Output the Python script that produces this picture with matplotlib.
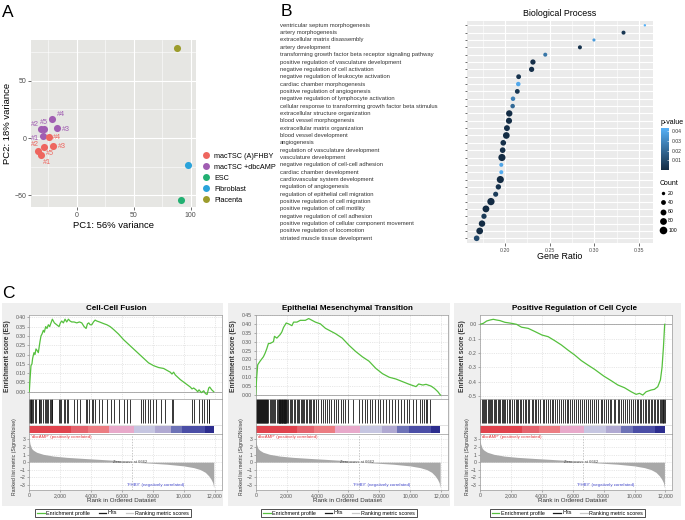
import matplotlib
matplotlib.use("Agg")
import matplotlib.pyplot as plt
import matplotlib.transforms as mtransforms
from matplotlib.colors import LinearSegmentedColormap, Normalize
from matplotlib.cm import ScalarMappable
from matplotlib.lines import Line2D
from matplotlib.patches import Rectangle
from matplotlib.ticker import FuncFormatter
import numpy as np

plt.rcParams["font.family"] = ["Liberation Sans", "DejaVu Sans"]

# ---------------- data: panel A (PCA) ----------------
pca_groups = ["macTSC (A)FHBY", "macTSC +dbcAMP", "ESC", "Fibroblast", "Placenta"]
pca_colors = ["#EE665F", "#A05DB2", "#22B072", "#2AA3DA", "#9C9C2C"]
rep_labels = ["#1", "#2", "#3", "#4", "#5"]
fhby_pc1 = [-31.3, -33.4, -21.0, -24.1, -29.0]
fhby_pc2 = [-14.9, -11.4, -6.8, 1.1, -8.2]
dbc_pc1 = [-29.6, -31.3, -17.5, -21.3, -29.0]
dbc_pc2 = [1.8, 7.6, 8.8, 16.4, 7.6]
other_pc1 = [91.2, 97.9, 88.3]   # ESC, Fibroblast, Placenta
other_pc2 = [-53.8, -23.6, 79.0]

# ---------------- data: panel B (GO dot plot) ----------------
bp_terms = [
    "ventricular septum morphogenesis",
    "artery morphogenesis",
    "extracellular matrix disassembly",
    "artery development",
    "transforming growth factor beta receptor signaling pathway",
    "positive regulation of vasculature development",
    "negative regulation of cell activation",
    "negative regulation of leukocyte activation",
    "cardiac chamber morphogenesis",
    "positive regulation of angiogenesis",
    "negative regulation of lymphocyte activation",
    "cellular response to transforming growth factor beta stimulus",
    "extracellular structure organization",
    "blood vessel morphogenesis",
    "extracellular matrix organization",
    "blood vessel development",
    "angiogenesis",
    "regulation of vasculature development",
    "vasculature development",
    "negative regulation of cell-cell adhesion",
    "cardiac chamber development",
    "cardiovascular system development",
    "regulation of angiogenesis",
    "regulation of epithelial cell migration",
    "positive regulation of cell migration",
    "positive regulation of cell motility",
    "negative regulation of cell adhesion",
    "positive regulation of cellular component movement",
    "positive regulation of locomotion",
    "striated muscle tissue development",
]
bp_ratio = [0.3566, 0.3327, 0.2996, 0.2839, 0.2451, 0.2313, 0.2298, 0.2153,
            0.2149, 0.2138, 0.2090, 0.2086, 0.2048, 0.2045, 0.2022, 0.2015,
            0.1981, 0.1974, 0.1966, 0.1959, 0.1959, 0.1948, 0.1926, 0.1896,
            0.1843, 0.1787, 0.1765, 0.1743, 0.1717, 0.1683]
bp_count = [10, 28, 17, 28, 28, 48, 48, 40, 35, 40, 35, 35, 70, 65, 60, 78,
            55, 55, 88, 28, 28, 88, 50, 45, 92, 80, 48, 72, 78, 55]
bp_pvalue = [0.043, 0.004, 0.036, 0.003, 0.024, 0.002, 0.002, 0.003, 0.040,
             0.004, 0.028, 0.020, 0.001, 0.001, 0.002, 0.0005, 0.002, 0.002,
             0.0003, 0.039, 0.041, 0.0003, 0.003, 0.006, 0.0002, 0.0003,
             0.005, 0.0005, 0.0003, 0.010]
size_legend_counts = [20, 40, 60, 80, 100]

# ---------------- data: panel C (GSEA) ----------------
gsea_titles = ["Cell-Cell Fusion", "Epithelial Mesenchymal Transition",
               "Positive Regulation of Cell Cycle"]

es_rank_1 = [0, 43, 108, 173, 216, 303, 368, 432, 519, 584, 692, 757, 822, 908,
             973, 1059, 1146, 1232, 1319, 1405, 1492, 1622, 1773, 1924, 2011,
             2097, 2205, 2313, 2421, 2530, 2638, 2746, 2897, 3070, 3243, 3394,
             3546, 3675, 3762, 3848, 3935, 4043, 4151, 4259, 4367, 4540, 4692,
             4843, 5016, 5232, 5448, 5773, 6097, 6421, 6745, 7070, 7394, 7718,
             8043, 8367, 8691, 8907, 9124, 9232, 9340, 9448, 9772, 10097,
             10421, 10529, 10637, 10788, 10897, 10983, 11135, 11286, 11394,
             11502, 11610, 11675, 11805, 11935]
es_score_1 = [0.0, 0.06, 0.14, 0.15, 0.18, 0.21, 0.20, 0.23, 0.22, 0.21, 0.27,
              0.30, 0.31, 0.33, 0.32, 0.35, 0.34, 0.36, 0.35, 0.37, 0.39, 0.37,
              0.36, 0.35, 0.37, 0.38, 0.37, 0.39, 0.375, 0.39, 0.38, 0.375,
              0.375, 0.37, 0.375, 0.37, 0.35, 0.34, 0.365, 0.37, 0.36, 0.36,
              0.375, 0.385, 0.38, 0.375, 0.37, 0.365, 0.36, 0.35, 0.335, 0.31,
              0.28, 0.255, 0.23, 0.205, 0.18, 0.155, 0.14, 0.13, 0.125, 0.115,
              0.105, 0.095, 0.105, 0.09, 0.065, 0.045, 0.025, 0.015, 0.02,
              0.01, 0.0, 0.01, -0.005, 0.005, -0.01, -0.015, 0.02, 0.025, 0.01,
              0.0]
hits_1 = [10, 40, 80, 120, 170, 210, 380, 420, 600, 650, 700, 750, 900, 1000,
          1050, 1150, 1220, 1330, 1400, 1450, 1490, 1950, 2000, 2080, 2220,
          2300, 2440, 2520, 2900, 3100, 3250, 3690, 3760, 3840, 4060, 4150,
          4250, 4500, 4700, 5000, 5300, 5500, 5800, 6100, 6300, 6500, 7200,
          7350, 7500, 7650, 7800, 8000, 8200, 8500, 8750, 9250, 9330, 10550,
          10630, 10950, 11200, 11280, 11520, 11600, 11660]

es_rank_2 = [0, 65, 130, 282, 499, 608, 716, 825, 933, 1042, 1150, 1215, 1367,
             1476, 1584, 1693, 1801, 1975, 2127, 2344, 2452, 2669, 2886, 3212,
             3429, 3646, 3863, 4188, 4514, 4839, 5165, 5599, 6033, 6467, 6901,
             7335, 7769, 8203, 8637, 9071, 9505, 9939, 10373, 10546, 10807,
             11024, 11349, 11566, 11783, 11950]
es_score_2 = [0.0, 0.10, 0.17, 0.19, 0.215, 0.235, 0.26, 0.29, 0.29, 0.295,
              0.30, 0.33, 0.32, 0.33, 0.34, 0.355, 0.38, 0.405, 0.40, 0.39,
              0.41, 0.41, 0.42, 0.42, 0.43, 0.42, 0.41, 0.40, 0.375, 0.36,
              0.345, 0.32, 0.28, 0.245, 0.215, 0.19, 0.15, 0.12, 0.10, 0.09,
              0.075, 0.06, 0.047, 0.062, 0.056, 0.06, 0.05, 0.037, 0.019, 0.0]
hits_2 = [20, 60, 110, 150, 170, 200, 240, 270, 300, 340, 370, 390, 430, 450,
          480, 520, 550, 580, 610, 640, 670, 700, 760, 820, 900, 960, 1050,
          1120, 1200, 1280, 1350, 1420, 1480, 1500, 1530, 1550, 1580, 1600,
          1630, 1650, 1680, 1700, 1720, 1750, 1770, 1800, 1820, 1850, 1870,
          1900, 1920, 1950, 1980, 2000, 2080, 2200, 2300, 2380, 2480, 2560,
          2650, 2730, 2820, 2900, 2980, 3060, 3150, 3250, 3330, 3420, 3520,
          3600, 3700, 3800, 3900, 4050, 4200, 4350, 4480, 4600, 4750, 4900,
          5050, 5200, 5350, 5500, 5650, 5800, 5950, 6300, 6700, 6900, 7050,
          7200, 7400, 7550, 7700, 7900, 8050, 8250, 8450, 8600, 8800, 9000,
          9200, 9400, 9600, 9800, 9950, 10150, 10400, 10600, 10750, 10900,
          11000, 11100, 11300]

es_rank_3 = [0, 215, 430, 645, 860, 1075, 1290, 1612, 2042, 2365, 2687, 3117,
             3547, 4020, 4407, 4837, 5267, 5697, 6127, 6557, 6987, 7417, 7998,
             8492, 8922, 9352, 9782, 10105, 10320, 10535, 10750, 11072, 11287,
             11502, 11674, 11780, 11870, 11950]
es_score_3 = [0.0, 0.007, 0.023, 0.03, 0.035, 0.03, 0.026, 0.014, 0.007, 0.0,
              -0.02, -0.028, -0.05, -0.075, -0.086, -0.114, -0.144, -0.18,
              -0.214, -0.253, -0.284, -0.314, -0.36, -0.393, -0.423, -0.442,
              -0.47, -0.488, -0.481, -0.493, -0.47, -0.458, -0.453, -0.435,
              -0.388, -0.30, -0.16, 0.0]
hits_3 = [30, 100, 180, 260, 330, 420, 500, 560, 640, 720, 800, 880, 950, 1050,
          1150, 1230, 1320, 1400, 1480, 1560, 1650, 1750, 1850, 1950, 2100,
          2200, 2300, 2400, 2480, 2560, 2650, 2800, 2900, 3000, 3100, 3200,
          3350, 3450, 3550, 3650, 3750, 3900, 4050, 4150, 4300, 4400, 4500,
          4650, 4750, 4850, 5000, 5100, 5250, 5350, 5500, 5600, 5700, 5850,
          5950, 6100, 6200, 6350, 6450, 6600, 6700, 6850, 7000, 7100, 7250,
          7400, 7500, 7650, 7800, 7900, 8050, 8150, 8300, 8400, 8500, 8650,
          8750, 8900, 9000, 9150, 9250, 9400, 9500, 9650, 9750, 9900, 10050,
          10150, 10250, 10350, 10450, 10550, 10650, 10750, 10850, 10950,
          11050, 11150, 11250, 11350, 11450, 11550, 11620, 11700, 11760,
          11820, 11870, 11910, 11940]

metric_rank = [0, 43, 150, 260, 475, 900, 1560, 2420, 3500, 4580, 5660, 6662,
               7830, 8900, 9990, 10640, 11070, 11390, 11610, 11760, 11870, 11935]
metric_value = [3.0, 2.4, 1.8, 1.57, 1.3, 1.03, 0.8, 0.63, 0.49, 0.36, 0.22,
                0.0, -0.13, -0.27, -0.49, -0.72, -0.98, -1.34, -1.8, -2.24,
                -2.7, -3.36]
zero_cross = 6662
heat_edges = [0, 2700, 3800, 5150, 6750, 8150, 9150, 9900, 11350, 11950]
heat_colors = ["#E0434D", "#E4636D", "#EC7D82", "#E8A9CA", "#C6C6E1",
               "#B0A9D2", "#6E73B7", "#4B4EA6", "#2C2D8E"]

es_series = [(es_rank_1, es_score_1), (es_rank_2, es_score_2), (es_rank_3, es_score_3)]
hits_all = [hits_1, hits_2, hits_3]

# ---------------- layout helpers (pixel coords) ----------------
W, H = 685, 520


def box(l, t, r, b):
    return [l / W, 1 - b / H, (r - l) / W, (b - t) / H]


def ftext(x, y, s, **kw):
    fig.text(x / W, 1 - y / H, s, **kw)


fig = plt.figure(figsize=(W / 100, H / 100), dpi=100)

ftext(2, 17, "A", fontsize=12.5, va="baseline")
ftext(281, 15.5, "B", fontsize=12.5, va="baseline")
ftext(2, 298, "C", fontsize=12.5, va="baseline")

# ================= Panel A =================
axA = fig.add_axes(box(31, 40, 195.7, 207.3))
axA.set_facecolor("#E6E6E3")
xs = fhby_pc1 + dbc_pc1 + other_pc1
ys = fhby_pc2 + dbc_pc2 + other_pc2
dx = 0.05 * (max(xs) - min(xs))
dy = 0.05 * (max(ys) - min(ys))
axA.set_xlim(min(xs) - dx, max(xs) + dx)
axA.set_ylim(min(ys) - dy, max(ys) + dy)

axA.scatter(dbc_pc1, dbc_pc2, s=26, color=pca_colors[1], linewidths=0, zorder=3)
axA.scatter(fhby_pc1, fhby_pc2, s=26, color=pca_colors[0], linewidths=0, zorder=3)
for x, y, c in zip(other_pc1, other_pc2, pca_colors[2:]):
    axA.scatter([x], [y], s=26, color=c, linewidths=0, zorder=3)

dbc_offsets = [(-5.8, -1.9), (-4.6, 3.6), (6.7, -1.2), (6.0, 3.6), (0, 5.0)]
fhby_offsets = [(4.3, -5.3), (-2.4, 4.8), (6.7, -0.7), (6.0, -0.7), (4.8, -4.3)]
for x, y, lab, off in zip(dbc_pc1, dbc_pc2, rep_labels, dbc_offsets):
    axA.annotate(lab, (x, y), xytext=off, textcoords="offset points",
                 ha="center", va="center", fontsize=5.2, color=pca_colors[1], zorder=4)
for x, y, lab, off in zip(fhby_pc1, fhby_pc2, rep_labels, fhby_offsets):
    axA.annotate(lab, (x, y), xytext=off, textcoords="offset points",
                 ha="center", va="center", fontsize=5.2, color=pca_colors[0], zorder=4)

axA.set_xticks([0, 50, 100])
axA.set_yticks([-50, 0, 50])
axA.set_xticks([-25, 25, 75], minor=True)
axA.set_yticks([-25, 25, 75], minor=True)
axA.grid(which="major", color="white", lw=0.8)
axA.grid(which="minor", color="white", lw=0.4)
axA.set_axisbelow(True)
for s in axA.spines.values():
    s.set_visible(False)
axA.tick_params(which="major", length=2, width=0.5, color="#333333",
                labelsize=5, labelcolor="#4D4D4D", pad=1.5)
axA.tick_params(which="minor", length=0)
axA.set_xlabel("PC1: 56% variance", fontsize=6.8, labelpad=1.5)
axA.set_ylabel("PC2: 18% variance", fontsize=6.8, labelpad=1.5)

pca_handles = [Line2D([], [], ls="", marker="o", markersize=5.0, color=c,
                      markeredgewidth=0) for c in pca_colors]
fig.legend(pca_handles, pca_groups, loc="center left",
           bbox_to_anchor=(202.4 / W, 1 - 178.4 / H), frameon=False,
           fontsize=5.2, handlelength=1.0, handletextpad=0.6,
           labelspacing=0.55, borderpad=0, borderaxespad=0)

# ================= Panel B =================
pcmap = LinearSegmentedColormap.from_list("ggblue", ["#132B43", "#56B1F7"])
pnorm = Normalize(vmin=min(bp_pvalue), vmax=max(bp_pvalue))
size_scale = 0.3

axB = fig.add_axes(box(467, 21, 653, 243))
axB.set_facecolor("#EBEBEB")
ypos = np.arange(len(bp_terms))
axB.scatter(bp_ratio, ypos, s=np.array(bp_count) * size_scale, c=bp_pvalue,
            cmap=pcmap, norm=pnorm, linewidths=0, zorder=3)
axB.set_ylim(len(bp_terms) - 0.36, -0.585)
axB.set_xlim(0.1575, 0.3657)
axB.set_yticks(ypos)
axB.set_yticklabels([])
axB.set_xticks([0.20, 0.25, 0.30, 0.35])
axB.set_xticklabels(["0.20", "0.25", "0.30", "0.35"])
axB.set_xticks([0.175, 0.225, 0.275, 0.325], minor=True)
axB.grid(which="major", color="white", lw=0.8)
axB.grid(which="minor", axis="x", color="white", lw=0.4)
axB.set_axisbelow(True)
for s in axB.spines.values():
    s.set_visible(False)
axB.tick_params(which="major", length=1.8, width=0.5, color="#333333",
                labelsize=3.8, labelcolor="#4D4D4D", pad=1.5)
axB.tick_params(which="minor", length=0)

term_tr = mtransforms.blended_transform_factory(fig.transFigure, axB.transData)
for i, term in enumerate(bp_terms):
    axB.text(280 / W, i, term, transform=term_tr, ha="left", va="center",
             fontsize=4.2, color="#333333")

ftext(560, 13, "Biological Process", fontsize=6.4, ha="center", va="center")
ftext(560, 256.5, "Gene Ratio", fontsize=6.4, ha="center", va="center")

cax = fig.add_axes(box(661, 128, 669.3, 170))
cb = fig.colorbar(ScalarMappable(norm=pnorm, cmap=pcmap), cax=cax)
cb.outline.set_visible(False)
cb.set_ticks([0.01, 0.02, 0.03, 0.04])
cb.set_ticklabels(["0.01", "0.02", "0.03", "0.04"])
cax.tick_params(length=1.5, width=0.4, color="white", direction="in",
                labelsize=3.7, labelcolor="#333333", pad=1.5)
ftext(661, 122, "p-value", fontsize=5, ha="left", va="center")

size_handles = [Line2D([], [], ls="", marker="o", color="black",
                       markersize=np.sqrt(c * size_scale), markeredgewidth=0)
                for c in size_legend_counts]
fig.legend(size_handles, [str(c) for c in size_legend_counts],
           title="Count", title_fontsize=5, fontsize=3.7, loc="upper left",
           bbox_to_anchor=(660 / W, 1 - 180 / H), frameon=False,
           handlelength=1.2, handletextpad=0.4, labelspacing=0.8,
           borderpad=0, borderaxespad=0, alignment="left")

# ================= Panel C =================
gsea_left = [29.3, 255.7, 480.0]
gsea_width = 192.4
bg_lr = [(1.9, 223.3), (228.3, 449.7), (454.0, 681.0)]
title_x = [116.5, 347.5, 574.3]
es_lab_off = [22, 22.4, 18]
rk_lab_off = [14.3, 14, 12.3]
es_ylims = [(-0.0365, 0.4124), (-0.0197, 0.45), (-0.517, 0.065)]
es_yticks = [np.arange(0, 0.401, 0.05), np.arange(0, 0.451, 0.05),
             np.arange(0, -0.501, -0.1)]
es_fmt = ["{:.2f}", "{:.2f}", "{:.1f}"]
legend_cx = [113, 339, 567.5]
xmax = 12450
es_green = "#55C03D"
frame_grey = "#9A9A9A"
grid_kw = dict(color="#D4D4D4", lw=0.4, ls=(0, (2, 2)))

for k in range(3):
    L = gsea_left[k]
    R = L + gsea_width
    bl, br = bg_lr[k]
    fig.patches.append(Rectangle((bl / W, 1 - 506 / H), (br - bl) / W, (506 - 303) / H,
                                 transform=fig.transFigure, facecolor="#EFEFEF",
                                 edgecolor="none", zorder=-10))

    # enrichment score
    ax_es = fig.add_axes(box(L, 315, R, 398.5))
    ax_es.set_facecolor("white")
    ranks, scores = es_series[k]
    ax_es.plot(ranks, scores, color=es_green, lw=0.9, zorder=3)
    ax_es.axhline(0, color="#A0A0A0", lw=0.6, zorder=2)
    ax_es.set_xlim(0, xmax)
    ax_es.set_ylim(*es_ylims[k])
    ax_es.set_xticks(np.arange(0, 12001, 2000))
    ax_es.set_xticklabels([])
    ax_es.set_yticks(es_yticks[k])
    fmt = es_fmt[k]
    ax_es.yaxis.set_major_formatter(FuncFormatter(lambda v, p, f=fmt: f.format(v + 0.0)))
    ax_es.grid(True, **grid_kw)
    ax_es.tick_params(axis="x", length=0)
    ax_es.tick_params(axis="y", length=1.5, width=0.4, color="#777777",
                      labelsize=3.7, labelcolor="#555555", pad=1)
    for s in ax_es.spines.values():
        s.set_color(frame_grey)
        s.set_linewidth(0.5)

    # hits and heat bar
    ax_mid = fig.add_axes(box(L, 398.5, R, 434))
    ax_mid.set_facecolor("white")
    ax_mid.vlines(hits_all[k], 0.30, 0.985, color="#151515", lw=0.6)
    ax_mid.broken_barh([(a, b - a) for a, b in zip(heat_edges[:-1], heat_edges[1:])],
                       (0.037, 0.188), facecolors=heat_colors, edgecolor="none")
    ax_mid.axhline(0.262, color="#CCCCCC", lw=0.4)
    ax_mid.set_xlim(0, xmax)
    ax_mid.set_ylim(0, 1)
    ax_mid.set_xticks([])
    ax_mid.set_yticks([])
    for s in ax_mid.spines.values():
        s.set_color(frame_grey)
        s.set_linewidth(0.5)

    # ranked list metric
    ax_rk = fig.add_axes(box(L, 434, R, 490))
    ax_rk.set_facecolor("white")
    ax_rk.fill_between(metric_rank, 0, metric_value, color="#A8A8A8", lw=0, zorder=2)
    ax_rk.axvline(zero_cross, color="#B0B0B0", lw=0.5, ls=(0, (2, 2)), zorder=3)
    ax_rk.set_xlim(0, xmax)
    ax_rk.set_ylim(-3.66, 3.7)
    ax_rk.set_yticks([3, 2, 1, 0, -1, -2, -3])
    ax_rk.set_xticks(np.arange(0, 12001, 2000))
    ax_rk.xaxis.set_major_formatter(FuncFormatter(lambda v, p: f"{int(v):,}"))
    ax_rk.grid(True, **grid_kw)
    ax_rk.set_axisbelow(True)
    ax_rk.tick_params(length=1.5, width=0.4, color="#777777",
                      labelsize=3.7, labelcolor="#555555", pad=1)
    for s in ax_rk.spines.values():
        s.set_color(frame_grey)
        s.set_linewidth(0.5)
    ax_rk.text(0.007, 0.952, "'dbcAMP' (positively correlated)",
               transform=ax_rk.transAxes, fontsize=3.2, color="#E8383D",
               ha="left", va="center")
    ax_rk.text(8150, 0.09, "'FHBY' (negatively correlated)",
               transform=ax_rk.get_xaxis_transform(), fontsize=3.2,
               color="#4A4FD0", ha="center", va="center")
    ax_rk.text(6530, 0, f"Zero cross at {zero_cross}", fontsize=3.0,
               color="#444444", ha="center", va="center", zorder=4)

    ftext(title_x[k], 308.7, gsea_titles[k], fontsize=5.8, fontweight="bold",
          ha="center", va="center")
    ftext(L - es_lab_off[k], 356, "Enrichment score (ES)", fontsize=4.8,
          fontweight="bold", rotation=90, ha="center", va="center", color="#333333")
    ftext(L - rk_lab_off[k], 456.7, "Ranked list metric (Signal2Noise)",
          fontsize=3.7, rotation=90, ha="center", va="center", color="#333333")
    ftext(L + 92, 501, "Rank in Ordered Dataset", fontsize=4.5,
          ha="center", va="center", color="#333333")

    leg_handles = [Line2D([], [], color=es_green, lw=0.9),
                   Line2D([], [], color="#1A1A1A", lw=0.9),
                   Line2D([], [], color="#C8C8C8", lw=0.9)]
    leg = fig.legend(leg_handles, ["Enrichment profile", "Hits", "Ranking metric scores"],
                     loc="center", bbox_to_anchor=(legend_cx[k] / W, 1 - 513 / H),
                     ncol=3, fontsize=3.9, handlelength=1.35, handletextpad=0.3,
                     columnspacing=1.6, borderpad=0.35, fancybox=False,
                     frameon=True, edgecolor="#333333", framealpha=1)
    leg.get_frame().set_linewidth(0.6)

fig.savefig("out.png", dpi=100, facecolor="white")
